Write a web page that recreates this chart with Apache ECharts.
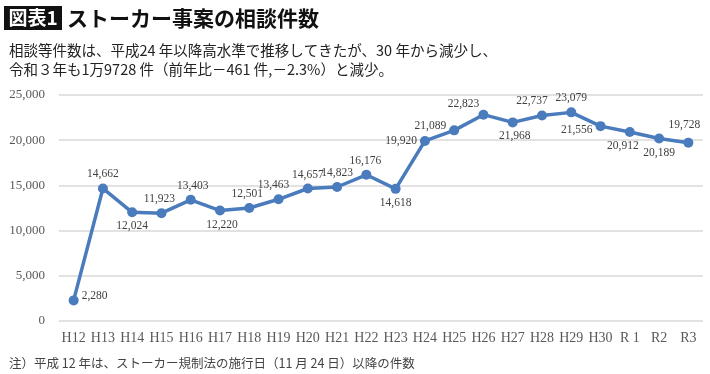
<!DOCTYPE html>
<html><head><meta charset="utf-8">
<script src="https://cdn.jsdelivr.net/npm/echarts@6/dist/echarts.min.js"></script>
<style>html,body{margin:0;padding:0;background:#fff}#c{width:710px;height:374px}</style>
</head><body><div id="c"></div>
<script>
const categories = ['H12','H13','H14','H15','H16','H17','H18','H19','H20','H21','H22','H23','H24','H25','H26','H27','H28','H29','H30','R 1','R2','R3'];
const values = [2280,14662,12024,11923,13403,12220,12501,13463,14657,14823,16176,14618,19920,21089,22823,21968,22737,23079,21556,20912,20189,19728];
const labelPos = ['right','top','bottom','top','top','bottom','top','top','top','top','top','bottom','left','left','top','bottom','top','top','left','bottom','bottom','top'];
const labelOffset = [[0,-4],[0,0],[0,0],[-2,0],[2,0],[2,0],[-2,0],[-5,0],[0,0],[0,0],[-1,0],[0,0],[0,0],[0,-4],[-20,3],[2,0],[-10,0],[0,0],[0,4],[-7,0],[0,0],[-4,-4]];
const yTicks = [0,5000,10000,15000,20000,25000];

const chart = echarts.init(document.getElementById('c'));
const serif = '"Liberation Serif","DejaVu Serif",serif';
const jp = '"Noto Sans CJK JP","Noto Sans",sans-serif';
chart.setOption({
  animation:false,
  grid:{left:59,right:7,top:95,bottom:53},
  xAxis:{type:'category',data:categories,boundaryGap:true,
    axisLine:{show:false},axisTick:{show:false},
    axisLabel:{color:'#595959',fontFamily:serif,fontSize:14,margin:10,interval:0}},
  yAxis:{type:'value',min:yTicks[0],max:yTicks[yTicks.length-1],interval:5000,
    axisLine:{show:false},axisTick:{show:false},
    splitLine:{lineStyle:{color:'#d9d9d9',width:1.5}},
    axisLabel:{color:'#595959',fontFamily:serif,fontSize:13,margin:14,
      formatter:v=>v.toLocaleString('en-US')}},
  series:[{type:'line',data:values.map((v,i)=>({value:v,label:{position:labelPos[i],offset:labelOffset[i]}})),
    lineStyle:{color:'#4a7bbd',width:3.5},
    itemStyle:{color:'#4a7bbd'},symbol:'circle',symbolSize:10,
    label:{show:true,distance:3,color:'#404040',fontFamily:serif,fontSize:11.5,
      formatter:p=>p.value.toLocaleString('en-US')}}],
  graphic:[
    {type:'rect',shape:{x:4,y:6,width:58,height:24},style:{fill:'#111'}},
    {type:'text',x:33,y:18,style:{text:'図表1',fill:'#fff',font:'bold 19px '+jp,align:'center',verticalAlign:'middle'}},
    {type:'text',x:67,y:18,style:{text:'ストーカー事案の相談件数',fill:'#111',font:'bold 21px '+jp,verticalAlign:'middle'}},
    {type:'text',x:9,y:50,style:{text:'相談等件数は、平成24 年以降高水準で推移してきたが、30 年から減少し、',fill:'#222',font:'14.5px '+jp,verticalAlign:'middle'}},
    {type:'text',x:9,y:69,style:{text:'令和３年も1万9728 件（前年比－461 件,－2.3%）と減少。',fill:'#222',font:'14.5px '+jp,verticalAlign:'middle'}},
    {type:'text',x:9,y:363,style:{text:'注）平成 12 年は、ストーカー規制法の施行日（11 月 24 日）以降の件数',fill:'#444',font:'12.5px '+jp,verticalAlign:'middle'}}
  ]
});
</script></body></html>
